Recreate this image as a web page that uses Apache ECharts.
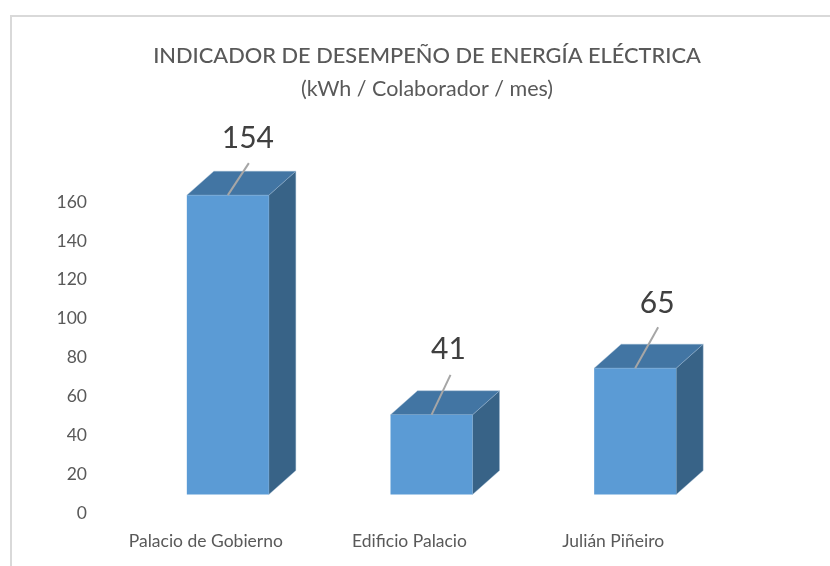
<!DOCTYPE html>
<html><head><meta charset="utf-8">
<style>html,body{margin:0;padding:0;background:#fff}#c{width:830px;height:566px}</style>
<script src="https://cdn.jsdelivr.net/npm/echarts@6/dist/echarts.min.js"></script>
</head><body><div id="c"></div>
<script>
const categories = ['Palacio de Gobierno', 'Edificio Palacio', 'Julián Piñeiro'];
const values = [154, 41, 65];
const titleText = 'INDICADOR DE DESEMPEÑO DE ENERGÍA ELÉCTRICA';
const subtitleText = '(kWh / Colaborador / mes)';

const FONT = 'Lato, "Open Sans", sans-serif';
const barW = 82, depthX = 27, depthY = 24, shiftX = 22, shiftY = 18.5;
const leaderEnd = [[21, -32], [19, -40], [23, -41]];
const labelAt = [[20, -57], [17, -65], [22, -65]];

const chart = echarts.init(document.getElementById('c'), null, {renderer: 'canvas'});
chart.setOption({
  animation: false,
  backgroundColor: '#fff',
  title: [
    {text: titleText, left: 422, top: 40, textAlign: 'center',
     textStyle: {fontFamily: FONT, fontSize: 21.8, fontWeight: 500, color: '#595959'}},
    {text: subtitleText, left: 422, top: 73, textAlign: 'center',
     textStyle: {fontFamily: FONT, fontSize: 21.5, fontWeight: 'normal', color: '#595959'}}
  ],
  grid: {left: 104, width: 611, top: 202, height: 311, containLabel: false},
  xAxis: {type: 'category', data: categories,
    axisLine: {show: false}, axisTick: {show: false},
    axisLabel: {fontFamily: FONT, fontSize: 17.5, color: '#595959', margin: 19, interval: 0}},
  yAxis: {type: 'value', min: 0, max: 160, interval: 20,
    splitLine: {show: false}, axisLine: {show: false}, axisTick: {show: false},
    axisLabel: {fontFamily: FONT, fontSize: 17.5, color: '#595959', margin: 17, padding: [4, 0, 0, 0]}},
  series: [{
    type: 'custom',
    clip: false,
    data: values.map((v, i) => [i, v]),
    encode: {x: 0, y: 1},
    renderItem(params, api) {
      const i = api.value(0), v = api.value(1);
      const base = api.coord([i, 0]), top = api.coord([i, v]);
      const cx = base[0] + shiftX;
      const x0 = cx - barW / 2, x1 = cx + barW / 2;
      const y0 = base[1] - shiftY, y1 = top[1] - shiftY;
      const lead = leaderEnd[params.dataIndex], lab = labelAt[params.dataIndex];
      return {type: 'group', children: [
        {type: 'polygon', shape: {points: [[x1, y0], [x1 + depthX, y0 - depthY], [x1 + depthX, y1 - depthY], [x1, y1]]},
         style: {fill: '#386387', stroke: '#9db8d2', lineWidth: 0.4}},
        {type: 'polygon', shape: {points: [[x0, y1], [x0 + depthX, y1 - depthY], [x1 + depthX, y1 - depthY], [x1, y1]]},
         style: {fill: '#4275a3', stroke: '#9db8d2', lineWidth: 0.4}},
        {type: 'rect', shape: {x: x0, y: y1, width: barW, height: y0 - y1},
         style: {fill: '#5b9bd5'}},
        {type: 'line', shape: {x1: cx, y1: y1, x2: cx + lead[0], y2: y1 + lead[1]},
         style: {stroke: '#a6a6a6', lineWidth: 2}},
        {type: 'text', x: cx + lab[0], y: y1 + lab[1],
         style: {text: String(v), fontFamily: FONT, fontSize: 30, fill: '#404040',
                  textAlign: 'center', textVerticalAlign: 'middle'}}
      ]};
    }
  }],
  graphic: [
    {type: 'polyline', silent: true, shape: {points: [[11, 566], [11, 16], [830, 16]]},
     style: {stroke: '#d9d9d9', lineWidth: 2, fill: null}}
  ]
});
</script></body></html>
